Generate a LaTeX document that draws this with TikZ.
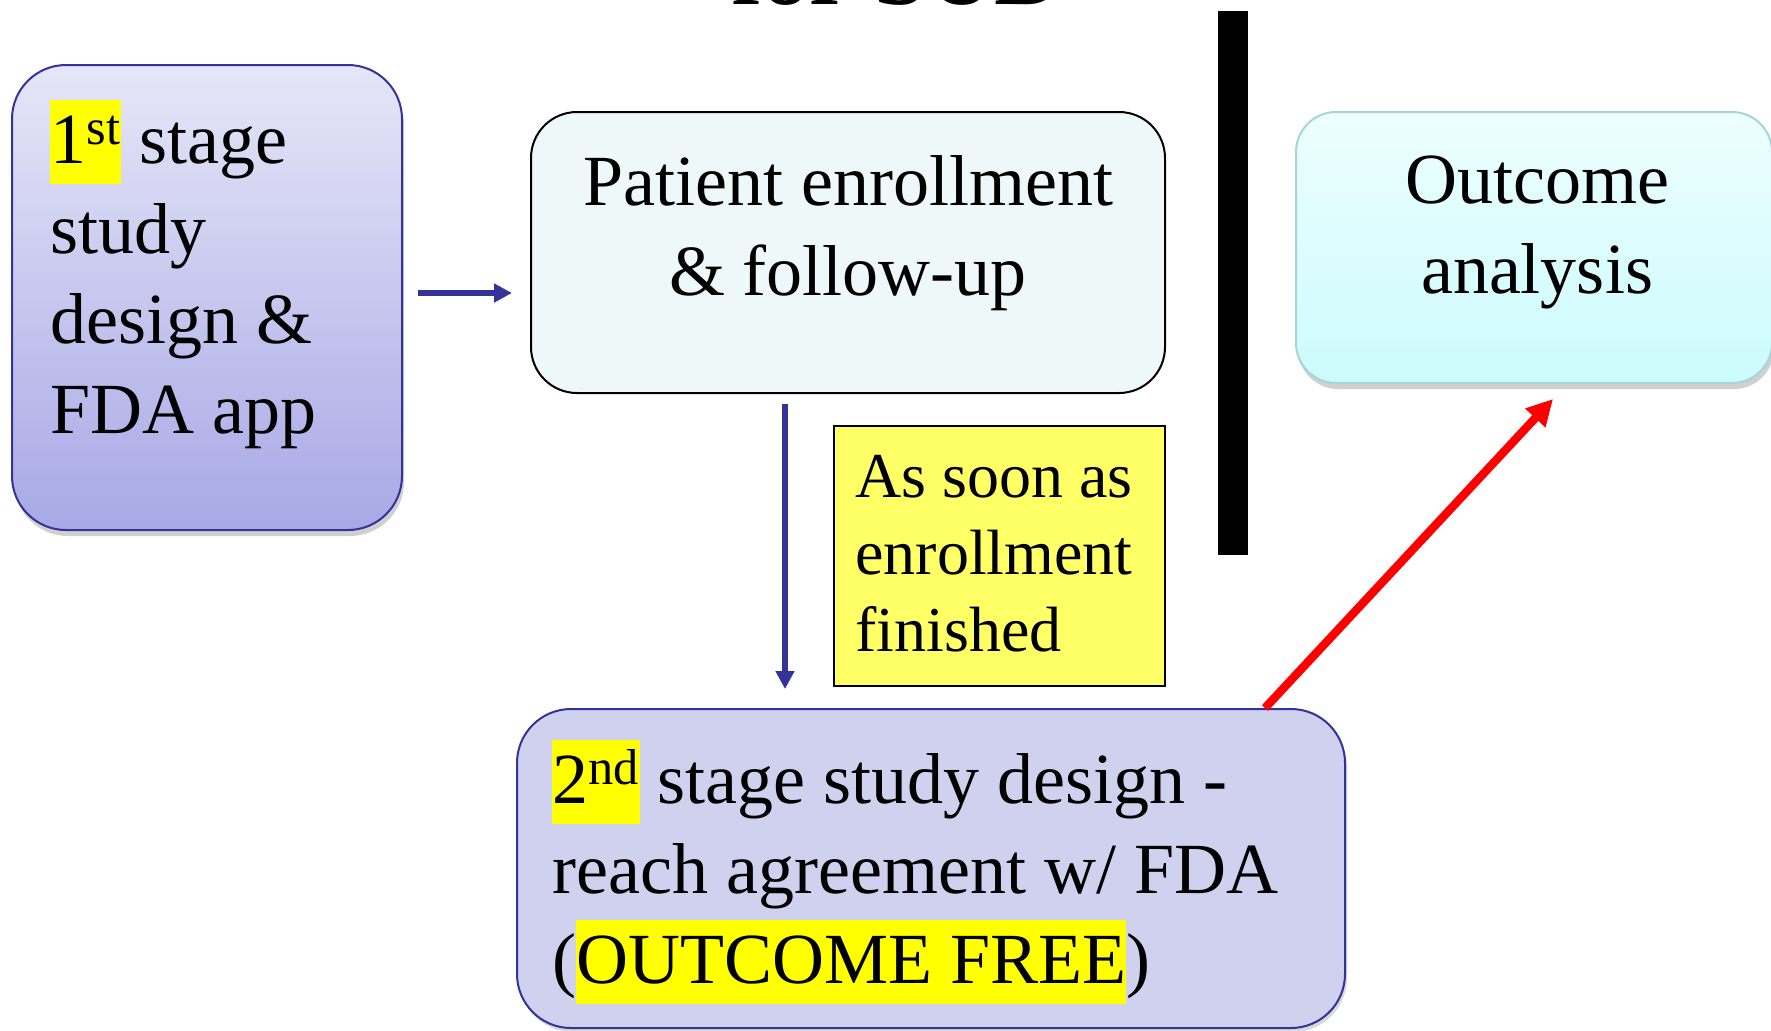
\documentclass[tikz,border=0pt]{standalone}
\usepackage{fontspec}
\setmainfont{Liberation Serif}
\usetikzlibrary{arrows.meta,shadows}
\definecolor{navy}{HTML}{333399}
\definecolor{boxonetop}{HTML}{E6E6F8}
\definecolor{boxonebot}{HTML}{A8A8E6}
\definecolor{boxtwofill}{HTML}{EFF8F8}
\definecolor{boxthreetop}{HTML}{EDFEFE}
\definecolor{boxthreebot}{HTML}{CCFBFD}
\definecolor{boxthreeline}{HTML}{A8D4D8}
\definecolor{notefill}{HTML}{FFFF66}
\definecolor{boxfourfill}{HTML}{D0D0EF}
\definecolor{hlyellow}{HTML}{FFFF00}
\newcommand\hlt[1]{{\setlength{\fboxsep}{0pt}\colorbox{hlyellow}{\rule[-10.5pt]{0pt}{42pt}#1}}}
\begin{document}
\begin{tikzpicture}[x=0.5pt,y=-0.5pt,
  bigtext/.style={font=\fontsize{36}{45}\selectfont, inner sep=0pt},
  notetext/.style={font=\fontsize{32}{38.5}\selectfont, inner sep=0pt},
  softshadow/.style={drop shadow={shadow xshift=1pt, shadow yshift=-3pt, opacity=0.3, fill=black!60}},
  stageone/.style={draw=navy, line width=1pt, rounded corners=27pt, top color=boxonetop, bottom color=boxonebot, softshadow},
  enrolbox/.style={draw=black, line width=1pt, rounded corners=23pt, fill=boxtwofill},
  outbox/.style={draw=boxthreeline, line width=1pt, rounded corners=20pt, top color=boxthreetop, bottom color=boxthreebot, softshadow},
  notebox/.style={draw=black, line width=0.8pt, fill=notefill},
  stagetwo/.style={draw=navy, line width=1pt, rounded corners=27pt, fill=boxfourfill, drop shadow={shadow xshift=1pt, shadow yshift=-2pt, opacity=0.25, fill=black!60}},
  bluearrow/.style={draw=navy, line width=2.8pt, -{Triangle[length=9pt,width=9pt]}},
  redarrow/.style={draw=red, line width=4.2pt, -{Triangle[length=13pt,width=13pt]}}
]
\useasboundingbox (0,0) rectangle (1771,1030);
\fill[white] (0,0) rectangle (1771,1030);
\begin{scope}
\clip (0,0) rectangle (1771,1030);
\node[font=\fontsize{47}{56}\bfseries\selectfont, anchor=base, inner sep=0pt] (title) at (897,4) {for SUD};

% boxes
\node[stageone, minimum width=195pt, minimum height=232.5pt, inner sep=0pt] (b1) at (207,297.5) {};
\node[enrolbox, minimum width=317pt, minimum height=140.5pt, inner sep=0pt] (b2) at (848,252.5) {};
\node[outbox, minimum width=238pt, minimum height=135.5pt, inner sep=0pt] (b3) at (1534,247.5) {};
\node[notebox, minimum width=165.5pt, minimum height=130pt, inner sep=0pt] (note) at (999.5,556) {};
\node[stagetwo, minimum width=414pt, minimum height=159.5pt, inner sep=0pt] (b4) at (931,868.5) {};
\node[fill=black, minimum width=15pt, minimum height=272pt, inner sep=0pt] (bar) at (1233,283) {};

% texts
\node[bigtext, anchor=base west] (t1) at (50,163)
  {\begin{tabular}[t]{@{}l@{}}\hlt{1\textsuperscript{st}} stage\\ study\\ design \&\\ FDA app\end{tabular}};
\node[bigtext, anchor=base] (t2) at (848,205)
  {\begin{tabular}[t]{@{}c@{}}Patient enrollment\\ \& follow-up\end{tabular}};
\node[bigtext, anchor=base] (t3) at (1537,203)
  {\begin{tabular}[t]{@{}c@{}}Outcome\\ analysis\end{tabular}};
\node[notetext, anchor=base west] (t4) at (855,497)
  {\begin{tabular}[t]{@{}l@{}}As soon as\\ enrollment\\ finished\end{tabular}};
\node[bigtext, anchor=base west] (t5) at (552,803)
  {\begin{tabular}[t]{@{}l@{}}\hlt{2\textsuperscript{nd}} stage study design -\\ reach agreement w/ FDA\\ (\hlt{OUTCOME FREE})\end{tabular}};

% connectors
\coordinate (ha) at (0,293);
\coordinate (va) at (785,0);
\coordinate (rs) at (1265,0);
\coordinate (re) at (1553,399);
\draw[bluearrow, shorten <=7.5pt, shorten >=9pt] (b1.east |- ha) -- (b2.west |- ha);
\draw[bluearrow, shorten <=5pt, shorten >=9.5pt] (b2.south -| va) -- (b4.north -| va);
\draw[redarrow] (b4.north -| rs) -- (re);
\end{scope}
\end{tikzpicture}
\end{document}
